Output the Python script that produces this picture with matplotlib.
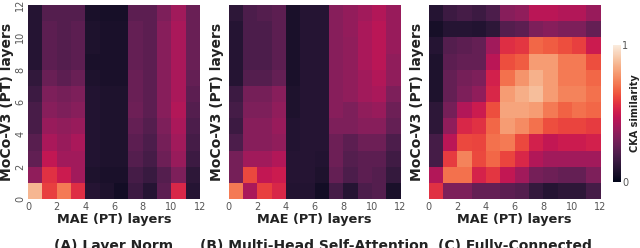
import numpy as np
import matplotlib
matplotlib.use("Agg")
import matplotlib.pyplot as plt
import seaborn as sns

# CKA similarity, rows listed top (layer 11) to bottom (layer 0), cols = MAE layers 0..11
cka_ln = [
    [0.10, 0.22, 0.22, 0.22, 0.07, 0.06, 0.06, 0.24, 0.24, 0.32, 0.40, 0.27],
    [0.10, 0.24, 0.22, 0.24, 0.08, 0.07, 0.07, 0.26, 0.24, 0.34, 0.42, 0.27],
    [0.10, 0.24, 0.22, 0.24, 0.08, 0.07, 0.07, 0.26, 0.24, 0.34, 0.42, 0.27],
    [0.10, 0.24, 0.22, 0.24, 0.07, 0.07, 0.07, 0.26, 0.24, 0.34, 0.42, 0.27],
    [0.13, 0.27, 0.24, 0.27, 0.08, 0.07, 0.07, 0.27, 0.24, 0.34, 0.42, 0.26],
    [0.16, 0.32, 0.30, 0.32, 0.09, 0.08, 0.08, 0.27, 0.24, 0.34, 0.42, 0.24],
    [0.19, 0.34, 0.32, 0.34, 0.09, 0.08, 0.08, 0.28, 0.24, 0.34, 0.44, 0.22],
    [0.19, 0.38, 0.36, 0.38, 0.09, 0.08, 0.08, 0.26, 0.22, 0.32, 0.42, 0.20],
    [0.23, 0.42, 0.38, 0.42, 0.09, 0.08, 0.08, 0.24, 0.20, 0.30, 0.40, 0.18],
    [0.25, 0.48, 0.40, 0.40, 0.09, 0.08, 0.08, 0.22, 0.18, 0.28, 0.38, 0.16],
    [0.36, 0.57, 0.50, 0.40, 0.08, 0.07, 0.07, 0.18, 0.15, 0.22, 0.32, 0.12],
    [0.86, 0.60, 0.72, 0.56, 0.10, 0.08, 0.05, 0.16, 0.10, 0.24, 0.54, 0.10],
]
cka_mhsa = [
    [0.12, 0.20, 0.22, 0.24, 0.07, 0.10, 0.10, 0.34, 0.37, 0.40, 0.44, 0.38],
    [0.10, 0.20, 0.20, 0.24, 0.07, 0.10, 0.10, 0.34, 0.37, 0.42, 0.46, 0.38],
    [0.10, 0.20, 0.20, 0.24, 0.07, 0.10, 0.10, 0.34, 0.36, 0.42, 0.46, 0.38],
    [0.10, 0.20, 0.20, 0.24, 0.07, 0.10, 0.10, 0.34, 0.36, 0.42, 0.46, 0.36],
    [0.10, 0.22, 0.22, 0.26, 0.07, 0.10, 0.10, 0.34, 0.36, 0.40, 0.44, 0.36],
    [0.16, 0.30, 0.30, 0.34, 0.08, 0.10, 0.10, 0.34, 0.36, 0.40, 0.42, 0.32],
    [0.18, 0.32, 0.32, 0.36, 0.08, 0.10, 0.10, 0.34, 0.32, 0.36, 0.38, 0.28],
    [0.16, 0.34, 0.34, 0.38, 0.09, 0.10, 0.10, 0.32, 0.32, 0.34, 0.34, 0.26],
    [0.20, 0.34, 0.34, 0.36, 0.09, 0.10, 0.10, 0.28, 0.24, 0.28, 0.28, 0.20],
    [0.30, 0.40, 0.40, 0.44, 0.10, 0.10, 0.09, 0.28, 0.22, 0.24, 0.24, 0.17],
    [0.30, 0.62, 0.48, 0.50, 0.10, 0.10, 0.08, 0.26, 0.20, 0.24, 0.22, 0.14],
    [0.72, 0.42, 0.60, 0.54, 0.09, 0.09, 0.05, 0.18, 0.10, 0.20, 0.22, 0.07],
]
cka_fc = [
    [0.10, 0.16, 0.18, 0.16, 0.20, 0.34, 0.36, 0.46, 0.46, 0.44, 0.44, 0.38],
    [0.06, 0.10, 0.10, 0.09, 0.12, 0.22, 0.24, 0.32, 0.34, 0.32, 0.32, 0.26],
    [0.10, 0.22, 0.24, 0.26, 0.40, 0.56, 0.58, 0.68, 0.66, 0.63, 0.60, 0.50],
    [0.08, 0.24, 0.26, 0.26, 0.46, 0.63, 0.66, 0.80, 0.80, 0.72, 0.72, 0.63],
    [0.08, 0.26, 0.30, 0.32, 0.52, 0.70, 0.78, 0.85, 0.80, 0.72, 0.72, 0.68],
    [0.08, 0.26, 0.32, 0.36, 0.54, 0.80, 0.84, 0.88, 0.80, 0.74, 0.74, 0.70],
    [0.12, 0.30, 0.44, 0.50, 0.63, 0.82, 0.82, 0.80, 0.72, 0.67, 0.70, 0.68],
    [0.12, 0.36, 0.54, 0.57, 0.68, 0.80, 0.76, 0.70, 0.63, 0.61, 0.61, 0.59],
    [0.18, 0.46, 0.62, 0.61, 0.70, 0.72, 0.62, 0.52, 0.48, 0.50, 0.50, 0.52],
    [0.18, 0.59, 0.74, 0.62, 0.68, 0.61, 0.54, 0.44, 0.40, 0.40, 0.40, 0.40],
    [0.44, 0.70, 0.70, 0.53, 0.58, 0.48, 0.40, 0.30, 0.28, 0.26, 0.26, 0.32],
    [0.57, 0.32, 0.32, 0.26, 0.26, 0.24, 0.22, 0.14, 0.10, 0.12, 0.12, 0.18],
]
panel_titles = ["(A) Layer Norm", "(B) Multi-Head Self-Attention", "(C) Fully-Connected"]
ticks = [0, 2, 4, 6, 8, 10, 12]

cmap = sns.color_palette("rocket", as_cmap=True)
edges = np.arange(13)

fig = plt.figure(figsize=(6.4, 2.48), dpi=100)
W, H = 640, 248
lefts = [28, 228.5, 428.5]
pw, top, bot = 172, 5, 199

mesh = None
for i, (left, data, title) in enumerate(zip(lefts, [cka_ln, cka_mhsa, cka_fc], panel_titles)):
    ax = fig.add_axes([left / W, 1 - bot / H, pw / W, (bot - top) / H])
    mesh = ax.pcolormesh(edges, edges, np.flipud(np.array(data)),
                         cmap=cmap, vmin=0, vmax=1)
    ax.set_xlim(0, 12)
    ax.set_ylim(0, 12)
    ax.set_xticks(ticks)
    ax.set_yticks(ticks)
    ax.tick_params(length=0, labelsize=7, labelcolor="#555555", pad=2)
    for lab in ax.get_yticklabels():
        lab.set_rotation(90)
        lab.set_va("center")
    if i > 0:
        ax.tick_params(axis="y", labelleft=False)
    for s in ax.spines.values():
        s.set_visible(False)
    ax.set_xlabel("MAE (PT) layers", fontsize=9.3, fontweight="bold",
                  color="#222222", labelpad=1)
    ax.set_ylabel("MoCo-V3 (PT) layers", fontsize=10, fontweight="bold",
                  color="#222222", labelpad=1 if i == 0 else 3)
    fig.text((left + pw / 2) / W, 1 - 239 / H, title, ha="center", va="top",
             fontsize=10, fontweight="bold", color="#222222")

cax = fig.add_axes([613 / W, 1 - 182 / H, 8 / W, 137 / H])
cb = fig.colorbar(mesh, cax=cax, ticks=[0, 1])
cb.outline.set_visible(False)
cb.ax.tick_params(length=0, labelsize=7, labelcolor="#555555", pad=1)
cb.set_label("CKA similarity", fontsize=7, fontweight="bold", color="#222222",
             labelpad=1)

fig.savefig("out.png", dpi=100)
